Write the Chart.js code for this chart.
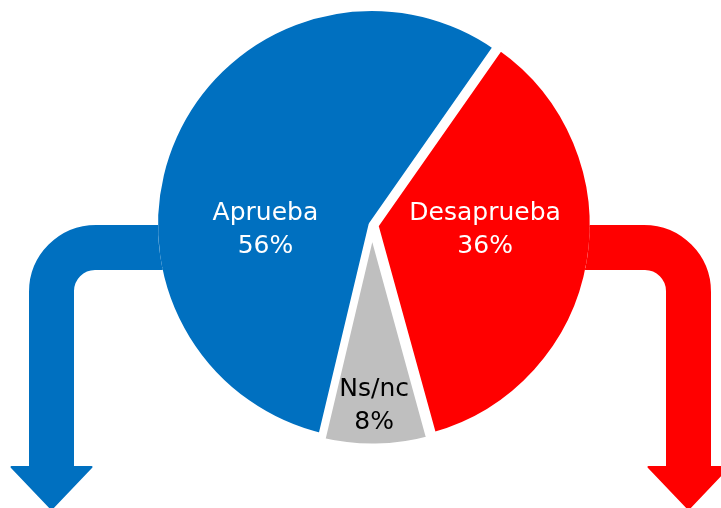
<!DOCTYPE html>
<html>
<head>
  <meta charset="utf-8">
  <title>Aprueba / Desaprueba</title>
  <script src="https://cdn.jsdelivr.net/npm/chart.js@4/dist/chart.umd.min.js"></script>
  <style>
    body { margin: 0; background: #fff; }
    #wrap { width: 721px; height: 508px; position: relative; }
  </style>
</head>
<body>
  <div id="wrap"><canvas id="pieChart"></canvas></div>

<script>
  // data
  var categories = ['Aprueba', 'Desaprueba', 'Ns/nc'];
  var values = [56, 36, 8];
  var sliceColors = ['#0070C0', '#FF0000', '#BFBFBF'];
  var labelColors = ['#FFFFFF', '#FFFFFF', '#000000'];

  // label spots, as a fraction of the radius from the pie center
  var labelSpots = [[-0.49, 0.02], [0.52, 0.02], [0.01, 0.83]];

  // where the arc of a slice really sits (chart.js v4 moves it by offset / 4)
  function arcCircle(arc) {
    var mid = (arc.startAngle + arc.endAngle) / 2;
    var off = (arc.options.offset || 0) / 4;
    var fix = 1 - Math.sin(Math.min(Math.PI, arc.circumference || 0));
    return {
      x: arc.x + Math.cos(mid) * off,
      y: arc.y + Math.sin(mid) * off,
      r: arc.outerRadius + off * fix - arc.options.borderWidth / 2
    };
  }

  // the two bent arrows coming out of the pie sides
  var arrowsPlugin = {
    id: 'arrows',
    afterDatasetsDraw: function (chart) {
      var meta = chart.getDatasetMeta(0);
      var ctx = chart.ctx;
      var cx = meta.data[0].x;
      [[0, 1, 30, 73], [1, -1, 710, 667]].forEach(function (a) {
        var c = arcCircle(meta.data[a[0]]);
        ctx.save();
        ctx.beginPath();
        ctx.rect(0, 0, chart.width, chart.height);
        ctx.arc(c.x, c.y, c.r, 0, Math.PI * 2, true);
        ctx.clip('evenodd');
        drawArrow(ctx, cx, a[1], a[2], a[3], sliceColors[a[0]]);
        ctx.restore();
      });
    }
  };

  function drawArrow(ctx, cx, dir, outerX, innerX, color) {
    var top = 226, bottom = 269, shaftEnd = 467, tipY = 509;
    var ro = 66, ri = 22;
    var mid = (outerX + innerX) / 2;
    ctx.beginPath();
    ctx.moveTo(cx, top);
    ctx.lineTo(outerX + dir * ro, top);
    ctx.arcTo(outerX, top, outerX, top + ro, ro);
    ctx.lineTo(outerX, shaftEnd);
    ctx.lineTo(mid - dir * 40, shaftEnd);
    ctx.lineTo(mid, tipY);
    ctx.lineTo(mid + dir * 40, shaftEnd);
    ctx.lineTo(innerX, shaftEnd);
    ctx.lineTo(innerX, bottom + ri);
    ctx.arcTo(innerX, bottom, innerX + dir * ri, bottom, ri);
    ctx.lineTo(cx, bottom);
    ctx.closePath();
    ctx.fillStyle = color;
    ctx.strokeStyle = color;
    ctx.lineWidth = 2;
    ctx.lineJoin = 'round';
    ctx.fill();
    ctx.stroke();
  }

  var labelsPlugin = {
    id: 'sliceLabels',
    afterDatasetsDraw: function (chart) {
      var meta = chart.getDatasetMeta(0);
      var ctx = chart.ctx;
      var total = values.reduce(function (a, b) { return a + b; }, 0);
      ctx.save();
      ctx.font = '25px "DejaVu Sans", sans-serif';
      ctx.textAlign = 'center';
      ctx.textBaseline = 'middle';
      meta.data.forEach(function (arc, i) {
        var x = arc.x + labelSpots[i][0] * arc.outerRadius;
        var y = arc.y + labelSpots[i][1] * arc.outerRadius;
        ctx.fillStyle = labelColors[i];
        ctx.fillText(categories[i], x, y - 16);
        ctx.fillText(Math.round(values[i] / total * 100) + '%', x, y + 17);
      });
      ctx.restore();
    }
  };

  var ctx = document.getElementById('pieChart').getContext('2d');
  var chart = new Chart(ctx, {
    type: 'pie',
    data: {
      labels: categories,
      datasets: [{
        data: values,
        backgroundColor: sliceColors,
        borderColor: '#FFFFFF',
        borderWidth: 7,
        offset: [0, 12, 12],
        radius: 217.5
      }]
    },
    options: {
      responsive: true,
      maintainAspectRatio: false,
      animation: false,
      rotation: 193.4,
      layout: { padding: { top: 0, bottom: 58, left: 150, right: 127 } },
      plugins: {
        legend: { display: false },
        tooltip: { enabled: false }
      }
    },
    plugins: [arrowsPlugin, labelsPlugin]
  });
</script>
</body>
</html>
